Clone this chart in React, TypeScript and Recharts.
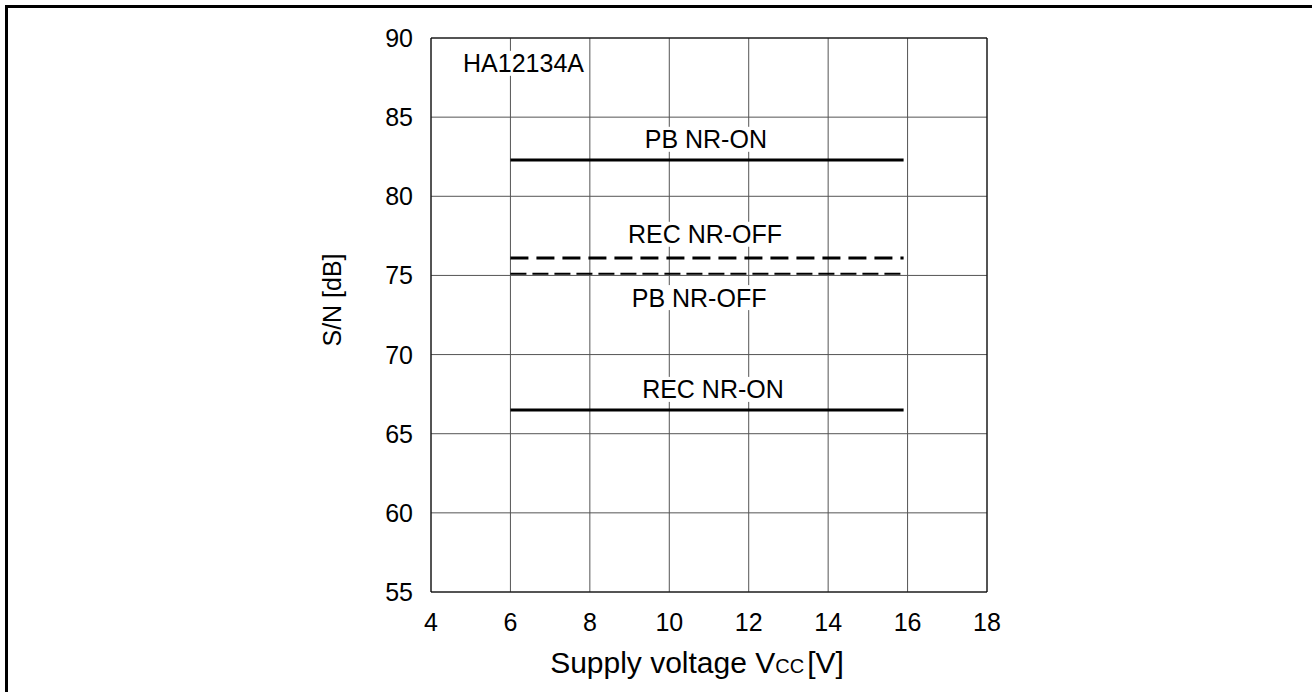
import React from 'react';
import {
  LineChart, Line, XAxis, YAxis, CartesianGrid, ReferenceArea, ReferenceDot, Label,
} from 'recharts';

// values (HA12134A, S/N vs supply voltage)
const voltage = [6, 15.9];
const pbNrOn = [82.3, 82.3];
const recNrOff = [76.1, 76.1];
const pbNrOff = [75.1, 75.1];
const recNrOn = [66.5, 66.5];

const xTicks = [4, 6, 8, 10, 12, 14, 16, 18];
const yTicks = [55, 60, 65, 70, 75, 80, 85, 90];

const curveNames = ['HA12134A', 'PB NR-ON', 'REC NR-OFF', 'PB NR-OFF', 'REC NR-ON'];
const nameAtX = [6.33, 10.92, 10.9, 10.75, 11.1];
const nameAtY = [88.4, 83.6, 77.6, 73.6, 67.8];

const data = voltage.map((v, i) => ({
  v,
  pbNrOn: pbNrOn[i],
  recNrOff: recNrOff[i],
  pbNrOff: pbNrOff[i],
  recNrOn: recNrOn[i],
}));

const FONT = '"Liberation Sans", Arial, Helvetica, sans-serif';
const FS = 25;
const W = 1312;
const H = 692;
const Y_AXIS_W = 80;
const X_AXIS_H = 90;
const margin = { top: 38, right: 325, bottom: 10, left: 351 };

const BoxLabel = ({ cx, cy, text }: any) => {
  const w = text.length * FS * 0.62 + 6;
  return (
    <g>
      <rect x={cx - w / 2} y={cy - FS * 0.5} width={w} height={FS} fill="#fff" />
      <text x={cx} y={cy + FS * 0.36} textAnchor="middle" fontFamily={FONT} fontSize={FS} fill="#000">
        {text}
      </text>
    </g>
  );
};

const XTick = ({ x, y, payload }: any) => (
  <text x={x} y={y + 31} textAnchor="middle" fontFamily={FONT} fontSize={FS} fill="#000">
    {payload.value}
  </text>
);

const YTick = ({ x, y, payload }: any) => (
  <text x={x - 10} y={y + 9} textAnchor="end" fontFamily={FONT} fontSize={FS} fill="#000">
    {payload.value}
  </text>
);

export default function App() {
  return (
    <div style={{ position: 'fixed', left: 0, top: 0, width: W, height: H, overflow: 'hidden', background: '#fff' }}>
      <div style={{ position: 'absolute', left: 5, top: 5, width: 1400, height: 800, border: '3px solid #000' }} />
      <div style={{ position: 'absolute', left: 0, top: 0 }}>
        <LineChart width={W} height={H} data={data} margin={margin}>
          <CartesianGrid stroke="#555" strokeWidth={1} />
          <XAxis
            dataKey="v"
            type="number"
            domain={[4, 18]}
            ticks={xTicks}
            height={X_AXIS_H}
            tick={<XTick />}
            tickLine={false}
            axisLine={false}
          >
            <Label
              content={(p: any) => {
                const vb = p.viewBox;
                return (
                  <text x={vb.x + vb.width / 2 - 12} y={vb.y + 81} textAnchor="middle" fontFamily={FONT} fontSize={30} fill="#000">
                    <tspan>Supply voltage V</tspan>
                    <tspan fontSize={20}>CC</tspan>
                    <tspan dx={3}>[V]</tspan>
                  </text>
                );
              }}
            />
          </XAxis>
          <YAxis
            type="number"
            domain={[55, 90]}
            ticks={yTicks}
            width={Y_AXIS_W}
            tick={<YTick />}
            tickLine={false}
            axisLine={false}
          >
            <Label
              content={(p: any) => {
                const vb = p.viewBox;
                const lx = vb.x - 19;
                const ly = vb.y + vb.height / 2 - 15;
                return (
                  <text x={lx} y={ly} transform={`rotate(-90 ${lx} ${ly})`} textAnchor="middle" dominantBaseline="central" fontFamily={FONT} fontSize={FS} fill="#000">
                    S/N [dB]
                  </text>
                );
              }}
            />
          </YAxis>
          <ReferenceArea x1={4} x2={18} y1={55} y2={90} fill="none" stroke="#000" strokeWidth={1} fillOpacity={0} />
          {curveNames.map((t, i) => (
            <ReferenceDot
              key={t}
              x={nameAtX[i]}
              y={nameAtY[i]}
              r={0}
              ifOverflow="visible"
              shape={(p: any) => <BoxLabel cx={p.cx} cy={p.cy} text={t} />}
            />
          ))}
          <Line dataKey="pbNrOn" stroke="#000" strokeWidth={3} dot={false} isAnimationActive={false} />
          <Line dataKey="recNrOff" stroke="#000" strokeWidth={3} strokeDasharray="18 8" dot={false} isAnimationActive={false} />
          <Line dataKey="pbNrOff" stroke="#000" strokeWidth={2} strokeDasharray="16 6" dot={false} isAnimationActive={false} />
          <Line dataKey="recNrOn" stroke="#000" strokeWidth={3} dot={false} isAnimationActive={false} />
        </LineChart>
      </div>
    </div>
  );
}
